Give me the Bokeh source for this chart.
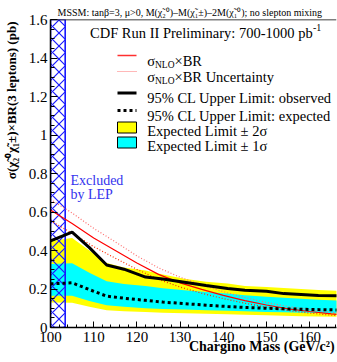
from bokeh.plotting import figure
from bokeh.models import Label, Arrow, BoxAnnotation, Span, FixedTicker, Range1d
from bokeh.embed import file_html
from bokeh.resources import INLINE

# ---------------- data ----------------
mass = [100, 105, 109, 113, 117, 122, 126, 131, 136, 141, 145, 150, 154, 158, 162, 167]
observed = [0.450, 0.495, 0.415, 0.325, 0.303, 0.262, 0.252, 0.235, 0.218, 0.203, 0.193, 0.188, 0.176, 0.172, 0.166, 0.165]
expected = [0.227, 0.232, 0.197, 0.163, 0.152, 0.141, 0.132, 0.124, 0.116, 0.109, 0.104, 0.100, 0.097, 0.095, 0.093, 0.091]
exp_p1s = [0.330, 0.334, 0.285, 0.240, 0.226, 0.216, 0.204, 0.194, 0.185, 0.176, 0.168, 0.160, 0.154, 0.149, 0.144, 0.140]
exp_m1s = [0.165, 0.165, 0.138, 0.115, 0.108, 0.100, 0.096, 0.093, 0.090, 0.087, 0.084, 0.081, 0.079, 0.077, 0.075, 0.073]
exp_p2s = [0.450, 0.465, 0.400, 0.335, 0.312, 0.296, 0.275, 0.253, 0.238, 0.228, 0.215, 0.210, 0.205, 0.200, 0.195, 0.190]
exp_m2s = [0.130, 0.128, 0.108, 0.090, 0.085, 0.080, 0.077, 0.074, 0.071, 0.069, 0.066, 0.063, 0.061, 0.059, 0.057, 0.055]

theory_mass = [100, 105, 110, 115, 120, 125, 130, 135, 140, 145, 150, 155, 160, 165, 170]
sigma_nlo = [0.610, 0.540, 0.465, 0.400, 0.335, 0.276, 0.232, 0.198, 0.167, 0.140, 0.117, 0.097, 0.083, 0.071, 0.062]
sigma_up = [0.665, 0.595, 0.515, 0.445, 0.372, 0.310, 0.261, 0.221, 0.186, 0.156, 0.130, 0.109, 0.093, 0.080, 0.069]
sigma_dn = [0.555, 0.490, 0.420, 0.360, 0.302, 0.250, 0.210, 0.178, 0.150, 0.126, 0.105, 0.088, 0.075, 0.064, 0.056]

lep_limit = 103.4
x_ticks = [100, 110, 120, 130, 140, 150, 160]
y_ticks = [0, 0.2, 0.4, 0.6, 0.8, 1.0, 1.2, 1.4, 1.6]
y_tick_labels = {0: "0", 1: "1"}

caption = "MSSM: tanβ=3, μ>0, M(χ̃₂⁰)–M(χ̃₁±)–2M(χ̃₁⁰); no slepton mixing"
x_title = "Chargino Mass (GeV/c²)"
y_title = "σ(χ̃₂⁰χ̃₁±)×BR(3 leptons) (pb)"

# ---------------- layout ----------------
W, H = 337, 362
X0, X1, Y0, Y1 = 100, 166.2, 0, 1.6
FL, FR, FT, FB = 50, 336, 19, 327   # frame edges in picture pixels
NBSP = "\u00a0"
X_PAD, Y_PAD = 39, 45   # non-breaking spaces that push the axis titles to the axis end


def dx(X):
    return X0 + (X - FL) * (X1 - X0) / (FR - FL)


def dy(Y):
    return Y0 + (FB - Y) * (Y1 - Y0) / (FB - FT)


SERIF = "Liberation Serif"

p = figure(width=W, height=H, output_backend="svg", toolbar_location=None,
           x_range=Range1d(X0, X1), y_range=Range1d(Y0, Y1), title=caption,
           min_border_left=FL, min_border_right=W - FR, min_border_top=FT,
           min_border_bottom=H - FB)
p.outline_line_color = None
p.xgrid.visible = False
p.ygrid.visible = False
p.background_fill_color = "white"

p.title.align = "left"
p.title.offset = 7
p.title.standoff = 4
p.title.text_font = SERIF
p.title.text_font_size = "10px"
p.title.text_font_style = "normal"
p.title.text_color = "black"

# bands
p.varea(x=mass, y1=exp_m2s, y2=exp_p2s, fill_color="#ffff00")
p.varea(x=mass, y1=exp_m1s, y2=exp_p1s, fill_color="#00ffff")

# LEP excluded region
p.quad(left=[X0], right=[lep_limit], bottom=[Y0], top=[Y1], fill_color=None,
       hatch_pattern="diagonal_cross", hatch_color="#1a1aff", hatch_scale=13,
       hatch_weight=1.2, line_color="#1a1aff", line_width=1.6)

# theory
p.line(theory_mass, sigma_up, line_color="#ff7070", line_width=1.2, line_dash="1 2")
p.line(theory_mass, sigma_dn, line_color="#ff2a00", line_width=1.2, line_dash="1 2")
p.line(theory_mass, sigma_nlo, line_color="#ff0000", line_width=1.2)

# limits
p.line(mass, expected, line_color="black", line_width=3, line_dash="3 3")
p.line(mass, observed, line_color="black", line_width=3)

# top frame line
p.add_layout(Span(location=Y1, dimension="width", line_color="black", line_width=1.5))

# axes
for ax in (p.xaxis[0], p.yaxis[0]):
    ax.axis_line_width = 1.5
    ax.major_tick_out = 0
    ax.minor_tick_out = 0
    ax.major_label_text_font = SERIF
    ax.major_label_text_font_size = "15px"
    ax.major_label_text_color = "black"
    ax.axis_label_text_font = SERIF
    ax.axis_label_text_font_style = "bold"
    ax.axis_label_text_color = "black"

p.xaxis.ticker = FixedTicker(ticks=x_ticks, minor_ticks=list(range(100, 168, 2)))
p.xaxis.major_tick_in = 6
p.xaxis.minor_tick_in = 3
p.xaxis.major_label_standoff = 4
p.xaxis.axis_label = NBSP * X_PAD + x_title
p.xaxis.axis_label_text_font_size = "14px"
p.xaxis.axis_label_standoff = -6

p.yaxis.ticker = FixedTicker(ticks=y_ticks, minor_ticks=[i * 0.05 for i in range(33)])
p.yaxis.major_tick_in = 7
p.yaxis.minor_tick_in = 4
p.yaxis.major_label_standoff = 3
p.yaxis.major_label_overrides = y_tick_labels
p.yaxis.axis_label = NBSP * Y_PAD + y_title
p.yaxis.axis_label_text_font_size = "13px"
p.yaxis.axis_label_standoff = 7


def lab(X, Y, text, size="14.5px", color="black"):
    p.add_layout(Label(x=dx(X), y=dy(Y), text=text, text_font=SERIF, text_font_size=size,
                       text_color=color, text_align="left", text_baseline="alphabetic"))


# in-frame title
lab(89.5, 32.5, "CDF Run II Preliminary: 700-1000 pb")
lab(312.5, 26.5, "-1", size="10px")

# excluded text
lab(70, 179.5, "Excluded", size="14px", color="#3333ee")
lab(70, 193.5, "by LEP", size="14px", color="#3333ee")

# legend
SX0, SX1, TX = 117, 136, 146.7
p.add_layout(Arrow(end=None, x_start=dx(SX0), x_end=dx(SX1), y_start=dy(55), y_end=dy(55),
                   line_color="#ff3030", line_width=1.5))
p.add_layout(Arrow(end=None, x_start=dx(SX0), x_end=dx(SX1), y_start=dy(71), y_end=dy(71),
                   line_color="#ff7070", line_width=1.2, line_dash="1 1"))
p.add_layout(Arrow(end=None, x_start=dx(SX0), x_end=dx(SX1), y_start=dy(92.5), y_end=dy(92.5),
                   line_color="black", line_width=3))
p.add_layout(Arrow(end=None, x_start=dx(SX0), x_end=dx(SX1), y_start=dy(110), y_end=dy(110),
                   line_color="black", line_width=3, line_dash="3 3"))
p.add_layout(BoxAnnotation(left=dx(SX0), right=dx(SX1), top=dy(121.5), bottom=dy(132.5),
                           fill_color="#ffff00", fill_alpha=1, line_color="black",
                           line_alpha=1, line_width=1))
p.add_layout(BoxAnnotation(left=dx(SX0), right=dx(SX1), top=dy(136.5), bottom=dy(147.5),
                           fill_color="#00ffff", fill_alpha=1, line_color="black",
                           line_alpha=1, line_width=1))

for base, rest in ((60.7, "×BR"), (76, "×BR Uncertainty")):
    lab(TX, base, "σ")
    lab(154.5, base + 4, "NLO", size="9.5px")
    lab(174, base, rest)
lab(TX, 97.3, "95% CL Upper Limit: observed")
lab(TX, 115, "95% CL Upper Limit: expected")
lab(TX, 130.7, "Expected Limit ± 2σ")
lab(TX, 145.7, "Expected Limit ± 1σ")

open("out.html", "w").write(file_html(p, INLINE))
